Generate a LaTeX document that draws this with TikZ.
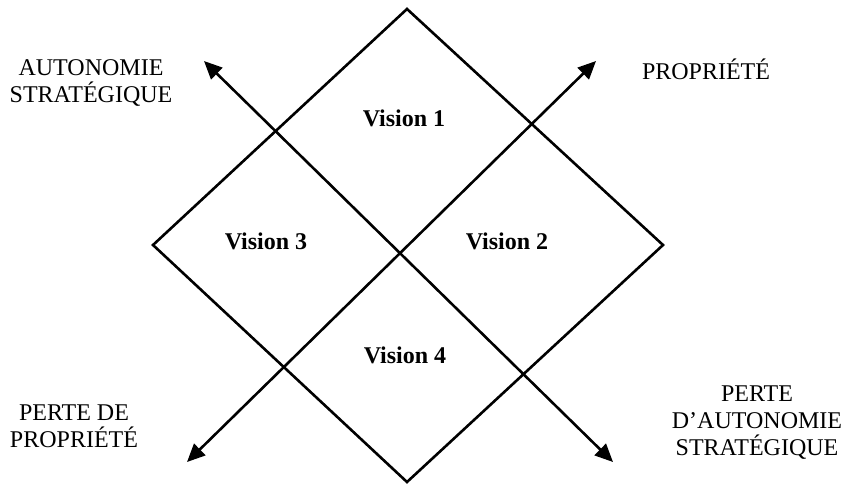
\documentclass[tikz,border=0pt]{standalone}
\usepackage{fontspec}
\setmainfont{Liberation Serif}
\usetikzlibrary{arrows.meta}

\begin{document}
\begin{tikzpicture}[x=0.5pt, y=-0.5pt, line join=miter,
                    every node/.style={font=\fontsize{12}{13.5}\selectfont, align=center},
                    eje/.style={{Triangle[length=9pt,width=8pt]}-{Triangle[length=9pt,width=8pt]},
                                line width=1.3pt},
                    vision/.style={font=\fontsize{12}{13.5}\selectfont\bfseries}]

  %--- marco (849 x 483 px) ---
  \useasboundingbox (0,0) rectangle (849,483);

  %--- vértices del rombo ---
  \coordinate (arriba)    at (407,9);
  \coordinate (derecha)   at (663,245);
  \coordinate (abajo)     at (407,482);
  \coordinate (izquierda) at (153,245);

  \draw[line width=1.3pt] (arriba) -- (derecha) -- (abajo) -- (izquierda) -- cycle;

  %--- extremos de los ejes ---
  \coordinate (autonomia)  at (204,61);
  \coordinate (pautonomia) at (613,462);
  \coordinate (propiedad)  at (596,61);
  \coordinate (ppropiedad) at (187,462);

  \draw[eje] (pautonomia) -- (autonomia);
  \draw[eje] (ppropiedad) -- (propiedad);

  %--- visiones ---
  \node[vision] (v1) at (404,118) {Vision 1};
  \node[vision] (v2) at (507,241) {Vision 2};
  \node[vision] (v3) at (266,241) {Vision 3};
  \node[vision] (v4) at (405,355) {Vision 4};

  %--- etiquetas de los ejes ---
  \node (tautonomia)  at (91,83)   {AUTONOMIE\\STRATÉGIQUE};
  \node (tpropiedad)  at (706,69)  {PROPRIÉTÉ};
  \node (tppropiedad) at (74,426)  {PERTE DE\\PROPRIÉTÉ};
  \node (tpautonomia) at (757,423) {PERTE\\D’AUTONOMIE\\STRATÉGIQUE};

\end{tikzpicture}
\end{document}
